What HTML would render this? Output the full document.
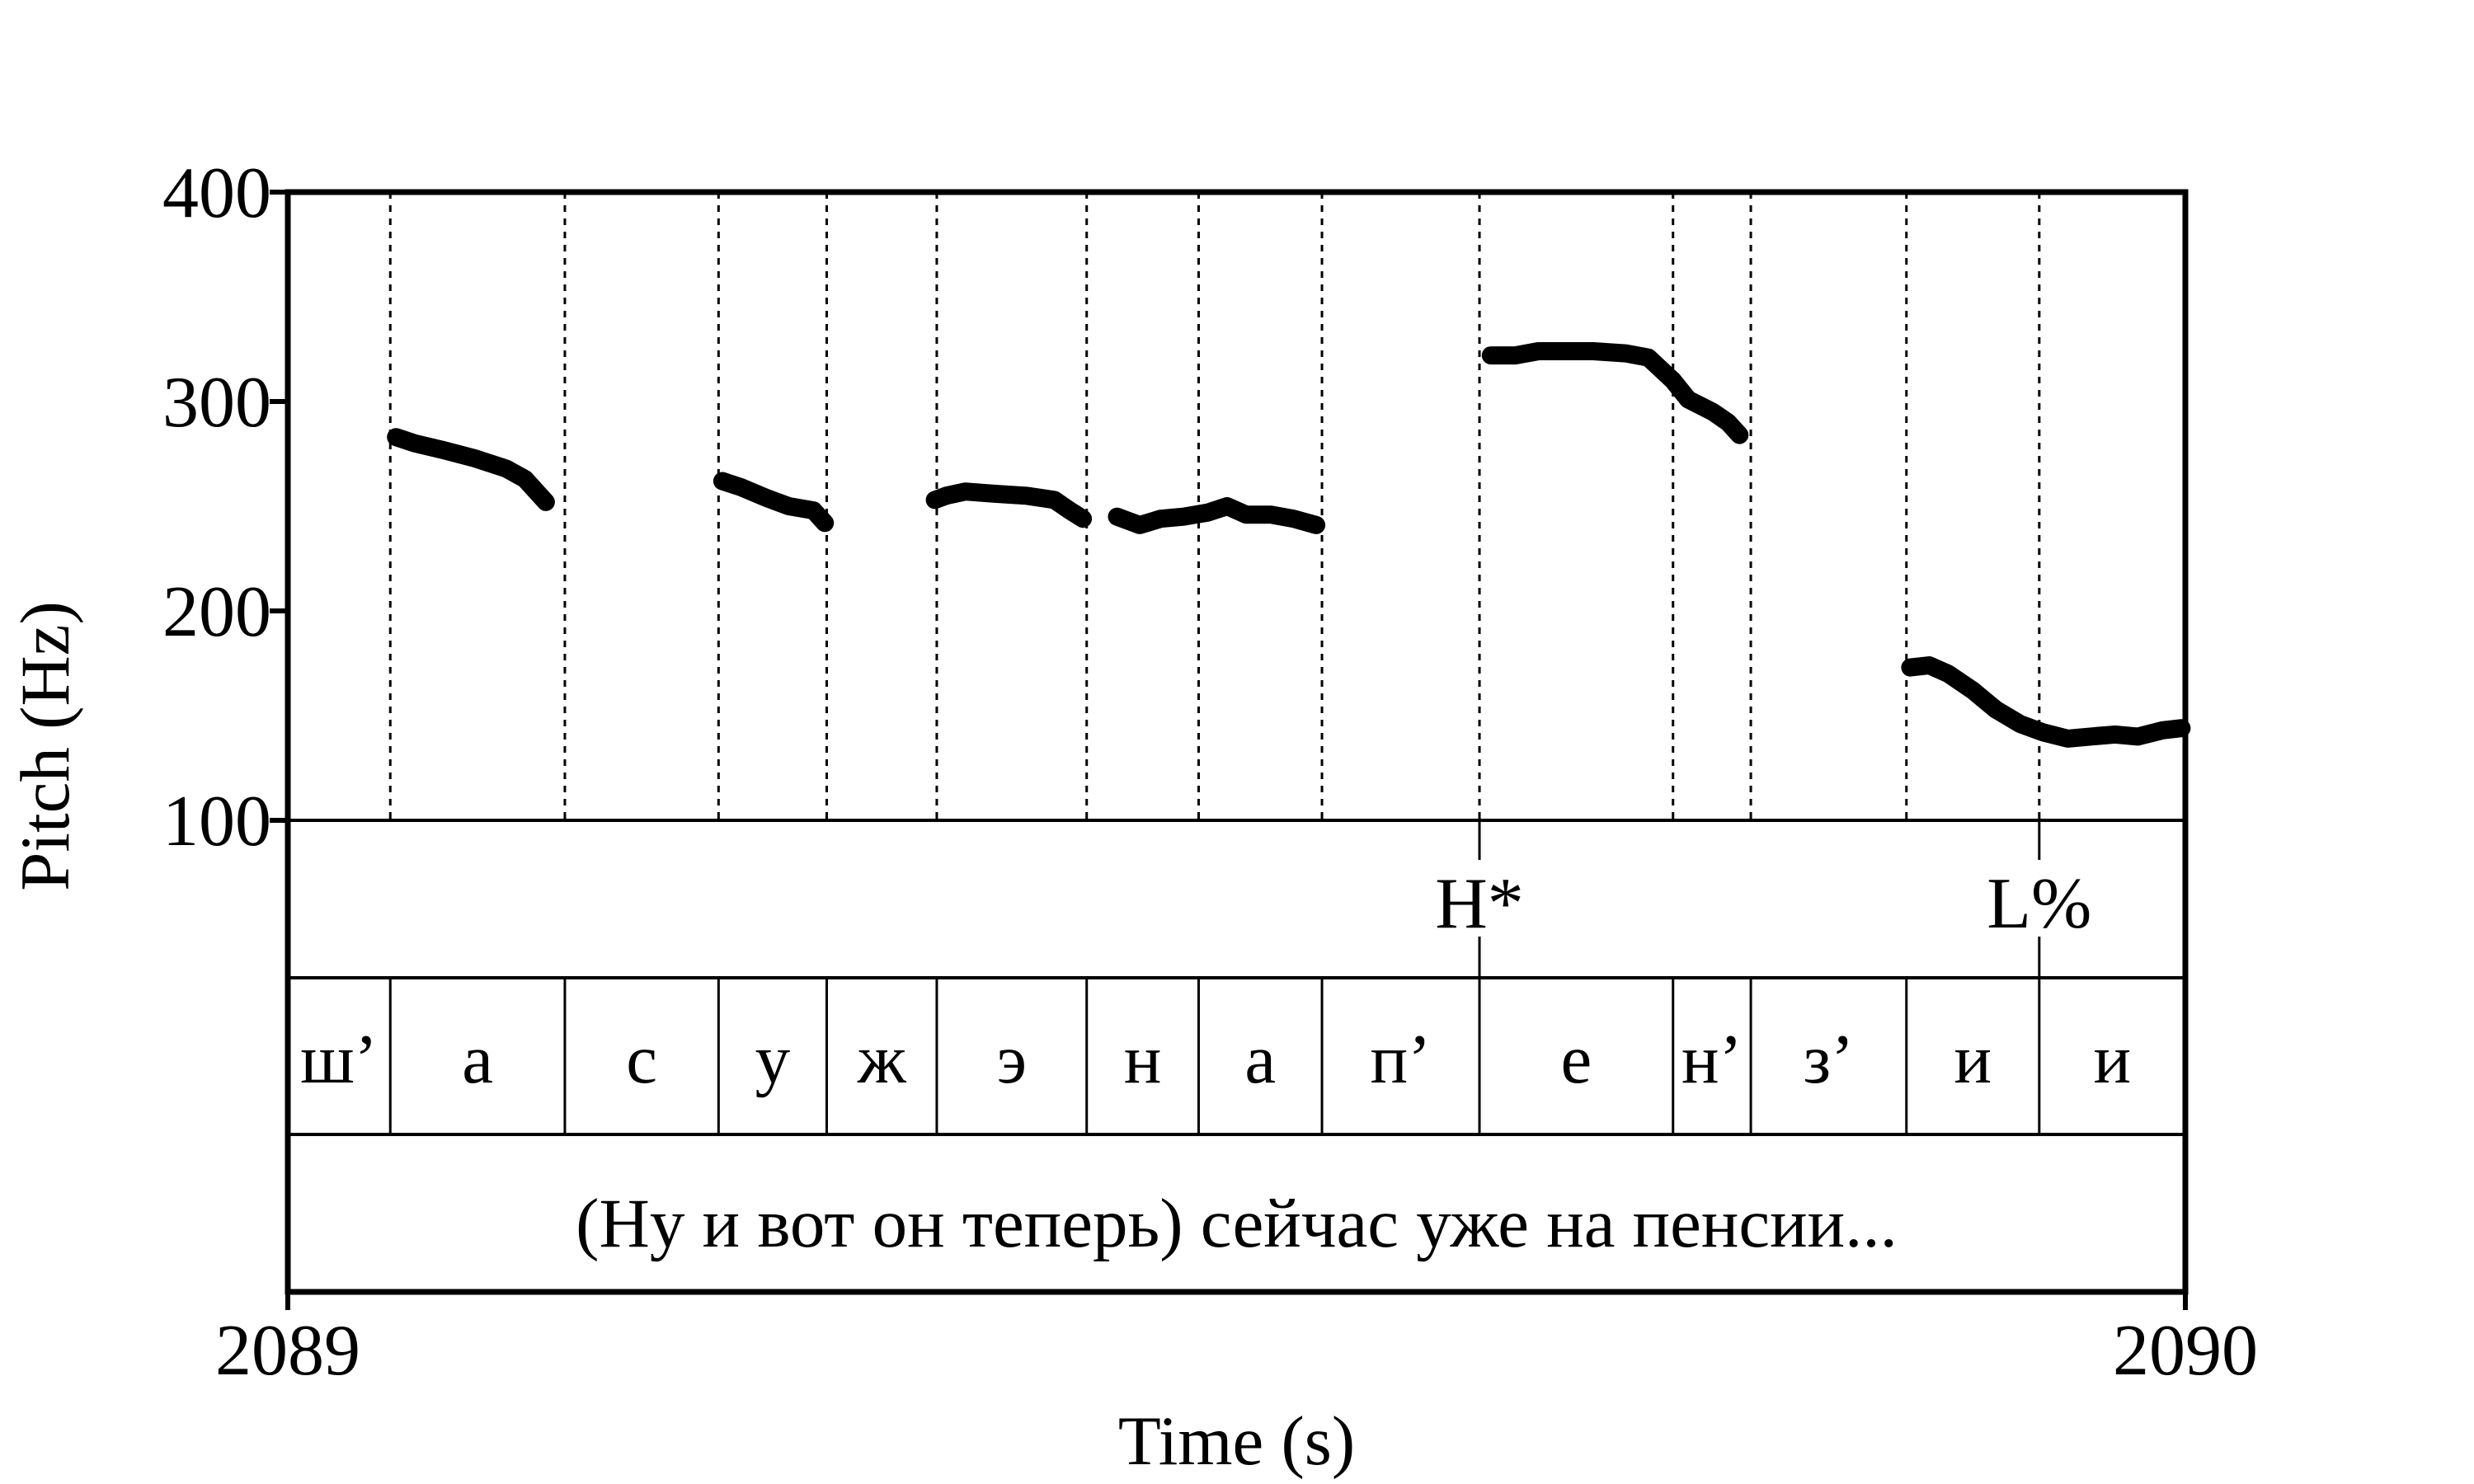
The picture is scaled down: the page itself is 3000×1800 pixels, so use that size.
<!DOCTYPE html>
<html><head><meta charset="utf-8"><style>
html,body{margin:0;padding:0;background:#fff}
svg{display:block}
text{font-family:"Liberation Serif","DejaVu Serif",serif;fill:#000}
</style></head><body>
<svg id="chart" width="3000" height="1800" viewBox="0 0 3000 1800" xmlns="http://www.w3.org/2000/svg">
<g id="g"></g>
</svg>
<script>
const yTicks=[100,200,300,400];
const xTickLabels=["2089","2090"];
const boundaries=[0.054,0.146,0.227,0.284,0.342,0.421,0.480,0.545,0.628,0.730,0.771,0.853,0.923];
const phones=["ш’","а","с","у","ж","э","н","а","п’","е","н’","з’","и","и"];
const toneTimes=[0.628,0.923];
const toneLabels=["H*","L%"];
const seg1T=[.057,.067,.081,.098,.115,.125,.136];
const seg1F=[283,280,277,273,268,263,252];
const seg2T=[.229,.239,.252,.264,.277,.283];
const seg2F=[262,259,254,250,248,242];
const seg3T=[.341,.347,.357,.372,.389,.404,.412,.419];
const seg3F=[253,255,257,256,255,253,248,244];
const seg4T=[.437,.449,.460,.472,.485,.495,.505,.518,.530,.542];
const seg4F=[245,241,244,245,247,250,246,246,244,241];
const seg5T=[.634,.647,.659,.672,.688,.705,.717,.730,.738,.751,.759,.765];
const seg5F=[322,322,324,324,324,323,321,310,301,295,290,284];
const seg6T=[.855,.865,.875,.888,.900,.913,.925,.938,.950,.963,.975,.988,.998];
const seg6F=[173,174,170,162,153,146,142,139,140,141,140,143,144];
const sentence="(Ну и вот он теперь) сейчас уже на пенсии...";

const L=349,R=2650,T=233,P=995,TT=1186,PT=1376,WB=1567;
const X=t=>L+t*(R-L);
const Y=f=>P-(f-100)/300*(P-T);
const g=document.getElementById('g');
const NS="http://www.w3.org/2000/svg";
function mk(tag,attrs,txt){const e=document.createElementNS(NS,tag);for(const k in attrs)e.setAttribute(k,attrs[k]);if(txt!==undefined)e.textContent=txt;g.appendChild(e);return e;}

boundaries.forEach(b=>{
  const e=mk('line',{x1:X(b),x2:X(b),y1:T,y2:P,stroke:'#000','stroke-width':3,'stroke-dasharray':'8 8'});
  
  
});
[P,TT,PT].forEach(y=>{
  const e=mk('line',{x1:L,x2:R,y1:y,y2:y,stroke:'#000','stroke-width':4});
  
  
});
boundaries.forEach(b=>{
  const e=mk('line',{x1:X(b),x2:X(b),y1:TT,y2:PT,stroke:'#000','stroke-width':3});
  
  
});
const edges=[0].concat(boundaries,[1]);
phones.forEach((p,i)=>{
  const e=mk('text',{x:(X(edges[i])+X(edges[i+1]))/2,y:1313,'font-size':85,'text-anchor':'middle'},p);
  
  
});
toneTimes.forEach((t,i)=>{
  const a=mk('line',{x1:X(t),x2:X(t),y1:P,y2:P+48,stroke:'#000','stroke-width':3});
  
  
  const b=mk('line',{x1:X(t),x2:X(t),y1:TT-50,y2:TT,stroke:'#000','stroke-width':3});
  
  
  const e=mk('text',{x:X(t),y:1125,'font-size':88,'text-anchor':'middle'},toneLabels[i]);
  
  
});
const s=mk('text',{x:(L+R)/2,y:1512,'font-size':85,'text-anchor':'middle'},sentence);


const fr=mk('rect',{x:L,y:T,width:R-L,height:WB-T,fill:'none',stroke:'#000','stroke-width':7});


yTicks.forEach(v=>{
  const t=mk('line',{x1:L-22,x2:L,y1:Y(v),y2:Y(v),stroke:'#000','stroke-width':6});
  
  
  const e=mk('text',{x:L-20,y:Y(v)+30,'font-size':88,'text-anchor':'end'},String(v));
  
  
});
xTickLabels.forEach((lab,i)=>{
  const t=mk('line',{x1:X(i),x2:X(i),y1:WB,y2:WB+22,stroke:'#000','stroke-width':6});
  
  
  const e=mk('text',{x:X(i),y:1667,'font-size':88,'text-anchor':'middle'},lab);
  
  
});
const xt=mk('text',{x:(L+R)/2,y:1776,'font-size':85,'text-anchor':'middle'},"Time (s)");


const yt=mk('text',{x:0,y:0,'font-size':85,'text-anchor':'middle',transform:'translate(83,905) rotate(-90)'},"Pitch (Hz)");


[[seg1T,seg1F],[seg2T,seg2F],[seg3T,seg3F],[seg4T,seg4F],[seg5T,seg5F],[seg6T,seg6F]].forEach(([ts,fs])=>{
  const d=ts.map((t,i)=>(i?'L':'M')+X(t).toFixed(1)+' '+Y(fs[i]).toFixed(1)).join(' ');
  const e=mk('path',{d:d,fill:'none',stroke:'#000','stroke-width':22,'stroke-linecap':'round','stroke-linejoin':'round'});
  
  
});
</script>
</body></html>
